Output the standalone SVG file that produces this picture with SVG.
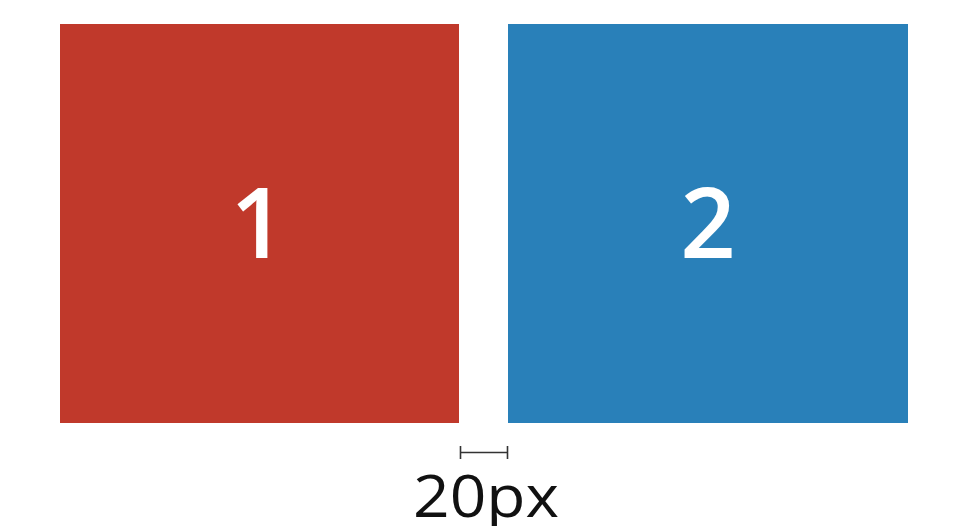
<svg xmlns="http://www.w3.org/2000/svg" width="956" height="526" viewBox="0 0 956 526">
<style>
.num{font-family:"Open Sans","Liberation Sans",sans-serif;font-weight:600;font-size:97px;fill:#ffffff;text-anchor:middle}
.lbl{font-family:"Open Sans","Liberation Sans",sans-serif;font-weight:500;font-size:58px;fill:#111111;text-anchor:middle}
.dim{stroke:#333333;stroke-width:1.6;fill:none}
</style>
<rect width="956" height="526" fill="#ffffff"/>
<g id="box1">
<rect x="60" y="24" width="399" height="399" fill="#C0392B"/>
<text class="num" x="258" y="258">1</text>
</g>
<g id="box2">
<rect x="508" y="24" width="400" height="399" fill="#2980B9"/>
<text class="num" x="708" y="258">2</text>
</g>
<g id="connectors">
<path class="dim" d="M460.5 446V459M507.5 446V459M460.5 452.5H507.5"/>
</g>
<g id="label">
<text class="lbl" x="486" y="517" textLength="146" lengthAdjust="spacingAndGlyphs">20px</text>
</g>
</svg>
